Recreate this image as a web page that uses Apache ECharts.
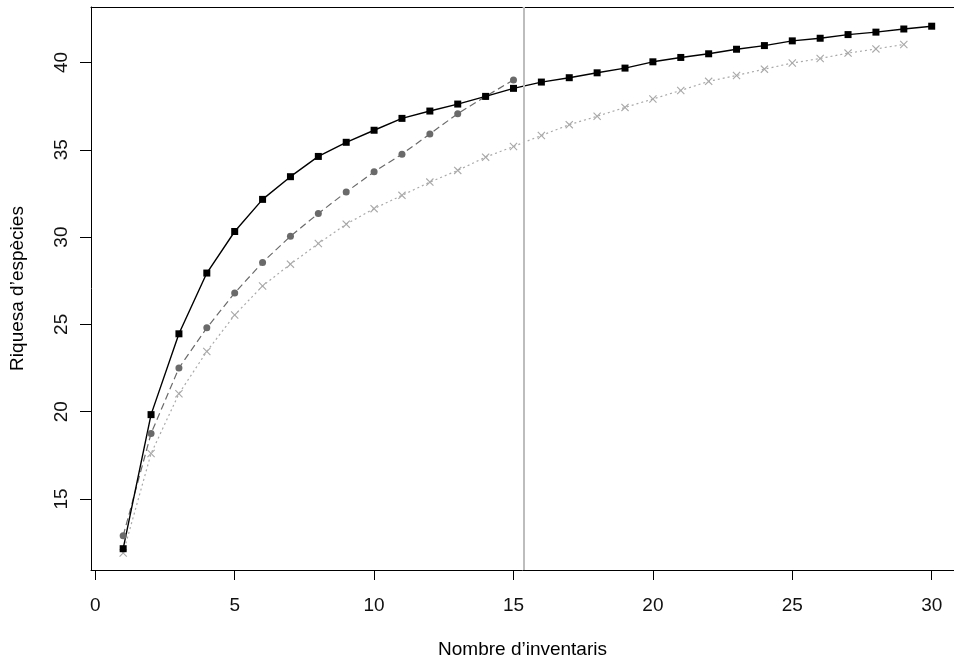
<!DOCTYPE html>
<html>
<head>
    <meta charset="utf-8">
    <title>Riquesa d'espècies</title>
    <script src="https://cdn.jsdelivr.net/npm/echarts@6.0.0/dist/echarts.min.js"></script>
    <style type="text/css">
        html, body{
            margin: 0;
            padding: 0;
            background: #fff;
        }
        #main{
            width: 954px;
            height: 664px;
        }
    </style>
</head>
<body>
<div id="main"></div>
<script>
    // valors llegits de la corba d'acumulació
    var inventaris = [1, 2, 3, 4, 5, 6, 7, 8, 9, 10, 11, 12, 13, 14, 15,
        16, 17, 18, 19, 20, 21, 22, 23, 24, 25, 26, 27, 28, 29, 30];
    var riquesaTotal = [12.15, 19.83, 24.46, 27.94, 30.32, 32.16, 33.46, 34.62, 35.43, 36.12,
        36.8, 37.22, 37.62, 38.06, 38.52, 38.88, 39.13, 39.41, 39.68, 40.04,
        40.29, 40.5, 40.76, 40.97, 41.24, 41.39, 41.6, 41.74, 41.92, 42.08];
    var riquesaB = [12.89, 18.75, 22.5, 24.8, 26.8, 28.55, 30.05, 31.35, 32.58, 33.74,
        34.75, 35.91, 37.07, 38.06, 39.0];
    var riquesaC = [11.9, 17.6, 21.03, 23.45, 25.54, 27.2, 28.45, 29.63, 30.74, 31.63,
        32.39, 33.15, 33.82, 34.58, 35.19, 35.82, 36.44, 36.92, 37.43, 37.91,
        38.4, 38.92, 39.26, 39.62, 39.97, 40.23, 40.54, 40.78, 41.03];
    var ticksX = [0, 5, 10, 15, 20, 25, 30];
    var ticksY = [15, 20, 25, 30, 35, 40];
    var liniaVertical = 15.35;

    function parells(ys) {
        var out = [];
        for (var i = 0; i < ys.length; i++) {
            out.push([inventaris[i], ys[i]]);
        }
        return out;
    }

    var creu = 'path://M0,1L1,0L5,4L9,0L10,1L6,5L10,9L9,10L5,6L1,10L0,9L4,5Z';
    var font = 'Liberation Sans, Arial, sans-serif';
    var xMin = -0.154, xMax = 30.80;

    var myChart = echarts.init(document.getElementById('main'));
    var option = {
        animation: false,
        backgroundColor: '#fff',
        grid: {
            left: 91,
            right: 0,
            top: 7,
            bottom: 92
        },
        xAxis: [{
            type: 'value',
            min: xMin,
            max: xMax,
            name: 'Nombre d’inventaris',
            nameLocation: 'middle',
            nameGap: 70,
            nameTextStyle: {color: '#000', fontSize: 19, fontFamily: font},
            axisLine: {show: true, onZero: false, lineStyle: {color: '#000', width: 1}},
            splitLine: {show: false},
            axisTick: {
                show: true,
                length: 10,
                customValues: ticksX,
                lineStyle: {color: '#000'}
            },
            axisLabel: {
                customValues: ticksX,
                margin: 26,
                color: '#111',
                fontSize: 19,
                fontFamily: font
            }
        }, {
            // vora superior de la caixa
            type: 'value',
            position: 'top',
            min: xMin,
            max: xMax,
            axisLine: {show: true, onZero: false, lineStyle: {color: '#000', width: 1}},
            axisTick: {show: false},
            axisLabel: {show: false},
            splitLine: {show: false}
        }],
        yAxis: {
            type: 'value',
            min: 10.93,
            max: 43.18,
            name: 'Riquesa d’espècies',
            nameLocation: 'middle',
            nameGap: 64,
            nameTextStyle: {color: '#000', fontSize: 19, fontFamily: font},
            axisLine: {show: true, onZero: false, lineStyle: {color: '#000', width: 1}},
            splitLine: {show: false},
            axisTick: {
                show: true,
                length: 11,
                customValues: ticksY,
                lineStyle: {color: '#000'}
            },
            axisLabel: {
                customValues: ticksY,
                rotate: 90,
                margin: 20,
                color: '#111',
                fontSize: 19,
                fontFamily: font
            }
        },
        series: [
            {
                name: 'C',
                type: 'line',
                data: parells(riquesaC),
                symbol: creu,
                symbolSize: 8,
                itemStyle: {color: '#a9a9a9'},
                lineStyle: {color: '#a9a9a9', width: 1.2, type: [2, 3]}
            },
            {
                name: 'B',
                type: 'line',
                data: parells(riquesaB),
                symbol: 'circle',
                symbolSize: 7,
                itemStyle: {color: '#6a6a6a'},
                lineStyle: {color: '#6a6a6a', width: 1.2, type: [7, 4]}
            },
            {
                name: 'Total',
                type: 'line',
                data: parells(riquesaTotal),
                symbol: 'rect',
                symbolSize: 7,
                itemStyle: {color: '#000'},
                lineStyle: {color: '#000', width: 1.4},
                markLine: {
                    silent: true,
                    symbol: 'none',
                    label: {show: false},
                    lineStyle: {color: '#bdbdbd', width: 2, type: 'solid'},
                    data: [{xAxis: liniaVertical}]
                }
            }
        ]
    };
    myChart.setOption(option);
</script>
</body>
</html>
